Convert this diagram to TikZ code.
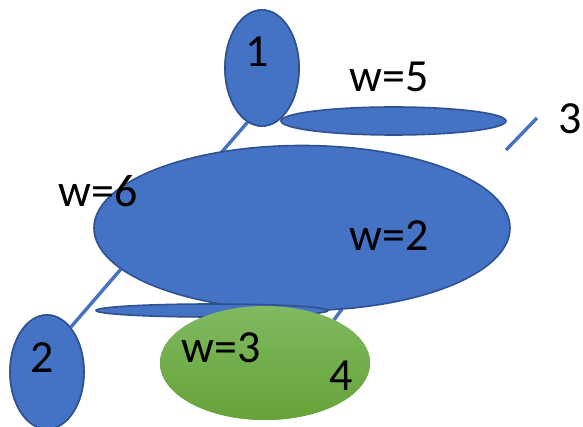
\documentclass[tikz,border=0pt]{standalone}
\usepackage{fontspec}
\setmainfont{Carlito}
\usetikzlibrary{shapes.geometric}
\definecolor{nblue}{HTML}{4472C4}
\definecolor{nborder}{HTML}{2F528F}
\definecolor{gtop}{HTML}{80B960}
\definecolor{gbot}{HTML}{65A338}
\tikzset{
  blob/.style={ellipse, draw=nborder, fill=nblue, line width=1.6pt, inner sep=0pt},
  greenblob/.style={ellipse, top color=gtop, bottom color=gbot, draw=none, inner sep=0pt},
  edge/.style={draw=nblue, line width=3.4pt},
  lbl/.style={anchor=base, inner sep=0pt, font=\fontsize{46}{50}\selectfont}
}
\begin{document}
\begin{tikzpicture}[x=1pt,y=-1pt]
\useasboundingbox (0,0) rectangle (583,427);
% nodes used for connector ends
\node[blob, minimum width=74pt, minimum height=116pt] (n1) at (262,68) {};
\node[blob, minimum width=74pt, minimum height=114pt] (n2) at (47,372) {};
\node[greenblob, minimum width=210pt, minimum height=114pt] (n4) at (265,363) {};
\coordinate (c3a) at (537,118);
\coordinate (c3b) at (506,150);
\coordinate (c4a) at (342,309);
% edges (drawn behind shapes)
\path[edge] (n1.255) -- (n2.62);
\path[edge] (c3a) -- (c3b);
\path[edge] (n4.32) -- (c4a);
% shapes on top
\node[blob, minimum width=74pt, minimum height=116pt] at (262,68) {};
\node[blob, minimum width=225pt, minimum height=28pt] (w5) at (393.5,121) {};
\node[blob, minimum width=416pt, minimum height=165pt] (w2) at (302,228) {};
\node[blob, minimum width=232pt, minimum height=13pt] (w6b) at (212,310.5) {};
\node[greenblob, minimum width=210pt, minimum height=114pt] at (265,363) {};
\node[blob, minimum width=74pt, minimum height=114pt] at (47,372) {};
% labels
\node[lbl] (t1) at (257,67) {1};
\node[lbl] (t5) at (389,92) {w=5};
\node[lbl] (t3) at (570,134) {3};
\node[lbl] (t6) at (98,207) {w=6};
\node[lbl] (t2w) at (389,251) {w=2};
\node[lbl] (t2) at (42,372) {2};
\node[lbl] (t3w) at (221,362) {w=3};
\node[lbl] (t4) at (341,390) {4};
\end{tikzpicture}
\end{document}
